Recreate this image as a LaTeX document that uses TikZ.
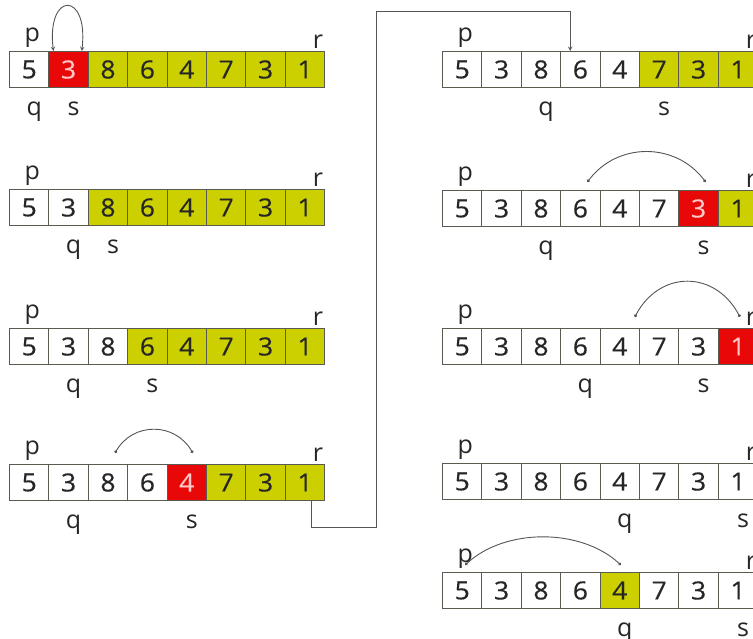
\documentclass[tikz,border=0pt]{standalone}
\usepackage{fontspec}
\setmainfont{Open Sans}
\newfontfamily\digitfont[FakeStretch=1.06, FakeBold=0.4]{Open Sans}
\usetikzlibrary{arrows.meta}
\definecolor{hlyellow}{RGB}{204,208,0}
\definecolor{hlred}{RGB}{232,8,8}
\definecolor{boxline}{RGB}{90,90,80}
\definecolor{linkgray}{RGB}{85,85,85}
% fill and text colour for each kind of cell
\colorlet{fillw}{white}  \colorlet{textw}{black!85}
\colorlet{filly}{hlyellow} \colorlet{texty}{black!85}
\colorlet{fillr}{hlred}  \colorlet{textr}{red!22!white}

\tikzset{
  cellbox/.style={draw=boxline, line width=1pt, minimum width=39.4pt, minimum height=36pt,
    inner sep=0pt, anchor=north west, font=\digitfont\fontsize{25}{25}\selectfont},
  lbl/.style={inner sep=0pt, text=black!85, font=\fontsize{25}{25}\selectfont},
  swap/.style={linkgray, line width=0.9pt, {Circle[length=3pt]}-{Circle[length=3pt]}}
}

% one array: name, left x, top y, list of value/kind
\newcommand{\cellrow}[4]{%
  \foreach \cval/\ckind [count=\ci from 0] in {#4} {
    \node[cellbox, fill=fill\ckind, text=text\ckind] (#1-\ci) at (#2+\ci*39.4, #3) {\cval};
  }}
% the p, r, q, s marks of one array: name, cell of q, cell of s
\newcommand{\pqrs}[3]{%
  \node[lbl, above=3pt, xshift=3pt] (#1-p) at (#1-0.north) {p};
  \node[lbl, above=2pt, xshift=13pt] (#1-r) at (#1-7.north) {r};
  \node[lbl, below=14pt, xshift=5pt] (#1-q) at (#1-#2.south) {q};
  \node[lbl, below=14pt, xshift=5pt] (#1-s) at (#1-#3.south) {s};}

\begin{document}
\begin{tikzpicture}[x=1pt, y=-1pt, >=stealth]
    \useasboundingbox (0,0) rectangle (753,639);

    % Left column
    \cellrow{L1}{9}{51}{5/w,3/r,8/y,6/y,4/y,7/y,3/y,1/y}
    \pqrs{L1}{0}{1}
    \cellrow{L2}{9}{189}{5/w,3/w,8/y,6/y,4/y,7/y,3/y,1/y}
    \pqrs{L2}{1}{2}
    \cellrow{L3}{9}{328}{5/w,3/w,8/w,6/y,4/y,7/y,3/y,1/y}
    \pqrs{L3}{1}{3}
    \cellrow{L4}{9}{464}{5/w,3/w,8/w,6/w,4/r,7/y,3/y,1/y}
    \pqrs{L4}{1}{4}

    % Right column
    \cellrow{R1}{442}{51}{5/w,3/w,8/w,6/w,4/w,7/y,3/y,1/y}
    \pqrs{R1}{2}{5}
    \cellrow{R2}{442}{190}{5/w,3/w,8/w,6/w,4/w,7/w,3/r,1/y}
    \pqrs{R2}{2}{6}
    \cellrow{R3}{442}{328}{5/w,3/w,8/w,6/w,4/w,7/w,3/w,1/r}
    \pqrs{R3}{3}{6}
    \cellrow{R4}{442}{463}{5/w,3/w,8/w,6/w,4/w,7/w,3/w,1/w}
    \pqrs{R4}{4}{7}
    \cellrow{R5}{442}{572}{5/w,3/w,8/w,6/w,4/y,7/w,3/w,1/w}
    \pqrs{R5}{4}{7}

    % Swaps
    \draw[linkgray, line width=0.9pt, <->] ([xshift=5pt]L1-1.north west)
        .. controls +(-7,-60) and +(7,-60) .. ([xshift=-7pt]L1-1.north east);
    \draw[swap] ([xshift=7pt, yshift=11pt]L4-2.north) .. controls +(18,-31) and +(-18,-31) .. ([xshift=6pt, yshift=11pt]L4-4.north);
    \draw[swap] ([xshift=7pt, yshift=8pt]R2-3.north) .. controls +(30,-40) and +(-30,-40) .. ([xshift=7pt, yshift=8pt]R2-6.north);
    \draw[swap] ([xshift=15pt, yshift=11pt]R3-4.north) .. controls +(25,-47) and +(-25,-47) .. ([xshift=2pt, yshift=11pt]R3-7.north);
    \draw[swap] ([xshift=3pt, yshift=7pt]R5-0.north) .. controls +(40,-37) and +(-40,-37) .. ([xshift=1pt, yshift=7pt]R5-4.north);

    % Link from the left column to the right one
    \coordinate (turnA) at (376,527);
    \coordinate (turnB) at (376,12);
    \draw[linkgray, line width=1pt, ->] ([xshift=6pt]L4-7.south) |- (turnA) -- (turnB)
        -| ([xshift=10pt]R1-3.north west);
\end{tikzpicture}
\end{document}
